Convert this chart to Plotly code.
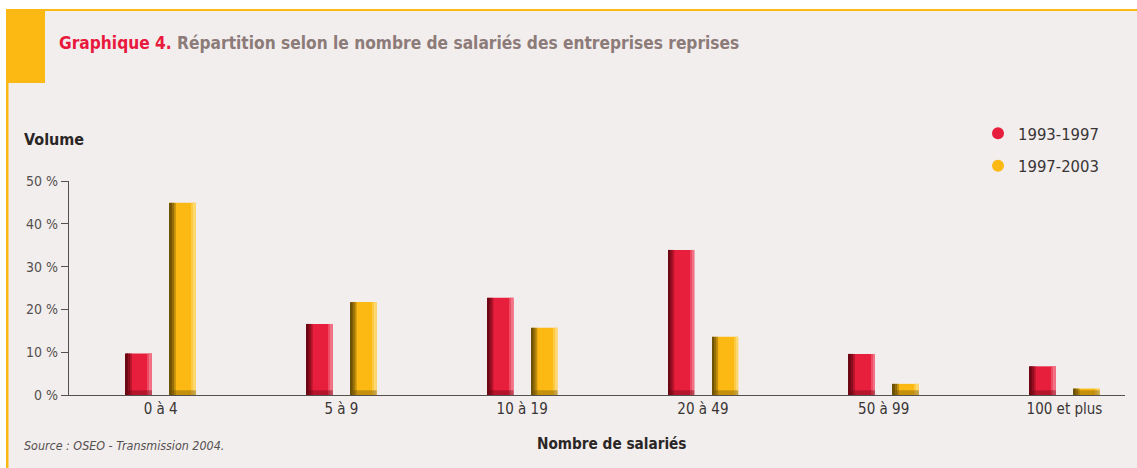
import plotly.graph_objects as go

categories = ["0 à 4", "5 à 9", "10 à 19", "20 à 49", "50 à 99", "100 et plus"]
series_1993_1997 = [9.7, 16.6, 22.7, 33.9, 9.6, 6.7]
series_1997_2003 = [44.9, 21.7, 15.7, 13.6, 2.6, 1.5]
y_ticks = [0, 10, 20, 30, 40, 50]
y_tick_labels = [f"{v} %" for v in y_ticks]

W, H = 1137, 468
ML, MR, MT, MB = 69, 12, 181, 73
PW, PH = W - ML - MR, H - MT - MB


def px(x):
    return (x - ML) / PW


def py(y):
    return (H - MB - y) / PH


FONT = "DejaVu Sans Condensed, Liberation Sans Narrow, sans-serif"
RED, RED_D, RED_M, RED_L = "#E81E3D", "#6E0714", "#A8112A", "#F47A8C"
YEL, YEL_D, YEL_M, YEL_L = "#FDB913", "#6E5206", "#B7860C", "#FEDB7A"

BW = 0.144
STRIP = 0.011
fig = go.Figure()


def add_bar(vals, off, main, dark, mid, light):
    base_band = [min(v, 1.1) for v in vals]
    fig.add_trace(go.Bar(x=categories, y=vals, offset=off, width=BW,
                         marker=dict(color=main, line=dict(width=0)),
                         showlegend=False, hoverinfo="skip"))
    for k, op in enumerate([1.0, 0.7, 0.4]):
        fig.add_trace(go.Bar(x=categories, y=vals, offset=off + k * STRIP, width=STRIP,
                             marker=dict(color=dark, line=dict(width=0)), opacity=op,
                             showlegend=False, hoverinfo="skip"))
    for k, op in enumerate([0.9, 0.5]):
        fig.add_trace(go.Bar(x=categories, y=vals, offset=off + BW - (k + 1) * STRIP, width=STRIP,
                             marker=dict(color=light, line=dict(width=0)), opacity=op,
                             showlegend=False, hoverinfo="skip"))
    fig.add_trace(go.Bar(x=categories, y=base_band, offset=off, width=BW,
                         marker=dict(color=dark, line=dict(width=0)), opacity=0.4,
                         showlegend=False, hoverinfo="skip"))


add_bar(series_1993_1997, -0.192, RED, RED_D, RED_M, RED_L)
add_bar(series_1997_2003, 0.051, YEL, YEL_D, YEL_M, YEL_L)

for name, col, grp in [("1993-1997", RED, "a"), ("1997-2003", YEL, "b")]:
    fig.add_trace(go.Scatter(x=[None], y=[None], mode="markers", name=name,
                             legendgroup=grp,
                             marker=dict(symbol="circle", size=17, color=col)))

BG = "#F2EEED"
ORANGE = "#FDB913"
shapes = [
    dict(type="rect", xref="paper", yref="paper", x0=px(6), x1=px(W + 5),
         y0=py(H + 5), y1=py(9), fillcolor=BG, line=dict(width=0), layer="below"),
    dict(type="rect", xref="paper", yref="paper", x0=px(6), x1=px(W + 5),
         y0=py(11), y1=py(9), fillcolor=ORANGE, line=dict(width=0), layer="below"),
    dict(type="rect", xref="paper", yref="paper", x0=px(6), x1=px(8.5),
         y0=py(H + 5), y1=py(9), fillcolor=ORANGE, line=dict(width=0), layer="below"),
    dict(type="rect", xref="paper", yref="paper", x0=px(6), x1=px(45),
         y0=py(83), y1=py(9), fillcolor=ORANGE, line=dict(width=0), layer="below"),
]

annotations = [
    dict(text="<b><span style='color:#E8193C'>Graphique 4.</span> Répartition selon le nombre de salariés des entreprises reprises</b>",
         xref="paper", yref="paper", x=px(57), y=py(43), xanchor="left", yanchor="middle",
         showarrow=False, font=dict(family=FONT, size=17.2, color="#8C7B78")),
    dict(text="<b>Volume</b>", xref="paper", yref="paper", x=px(22), y=py(139),
         xanchor="left", yanchor="middle", showarrow=False,
         font=dict(family=FONT, size=16, color="#2A2626")),
    dict(text="<i>Source : OSEO - Transmission 2004.</i>", xref="paper", yref="paper",
         x=px(22), y=py(445), xanchor="left", yanchor="middle", showarrow=False,
         font=dict(family=FONT, size=12.4, color="#555050")),
    dict(text="<b>Nombre de salariés</b>", xref="paper", yref="paper",
         x=px(612), y=py(444), xanchor="center", yanchor="middle", showarrow=False,
         font=dict(family=FONT, size=15.2, color="#2A2626")),
]

fig.update_layout(
    width=W, height=H,
    margin=dict(l=ML, r=MR, t=MT, b=MB),
    paper_bgcolor="white", plot_bgcolor="rgba(0,0,0,0)",
    barmode="overlay",
    shapes=shapes, annotations=annotations,
    legend=dict(x=px(978), y=py(116), xanchor="left", yanchor="top",
                bgcolor="rgba(0,0,0,0)", font=dict(family=FONT, size=16.5, color="#3A3535"),
                tracegroupgap=8, itemsizing="constant"),
    xaxis=dict(type="category", range=[-0.507, 5.335], showgrid=False,
               showline=True, linecolor="#555050", linewidth=1.3, ticks="",
               tickfont=dict(family=FONT, size=15, color="#3A3535"), zeroline=False),
    yaxis=dict(range=[0, 50], tickmode="array", tickvals=y_ticks, ticktext=y_tick_labels,
               showgrid=False,
               showline=True, linecolor="#555050", linewidth=1.3, ticks="outside",
               ticklen=7, tickcolor="#555050", zeroline=False,
               tickfont=dict(family=FONT, size=14, color="#555050")),
)

fig.write_html("out.html", config={"displayModeBar": False},
               post_script="document.body.style.margin='0';document.body.style.padding='0';")
